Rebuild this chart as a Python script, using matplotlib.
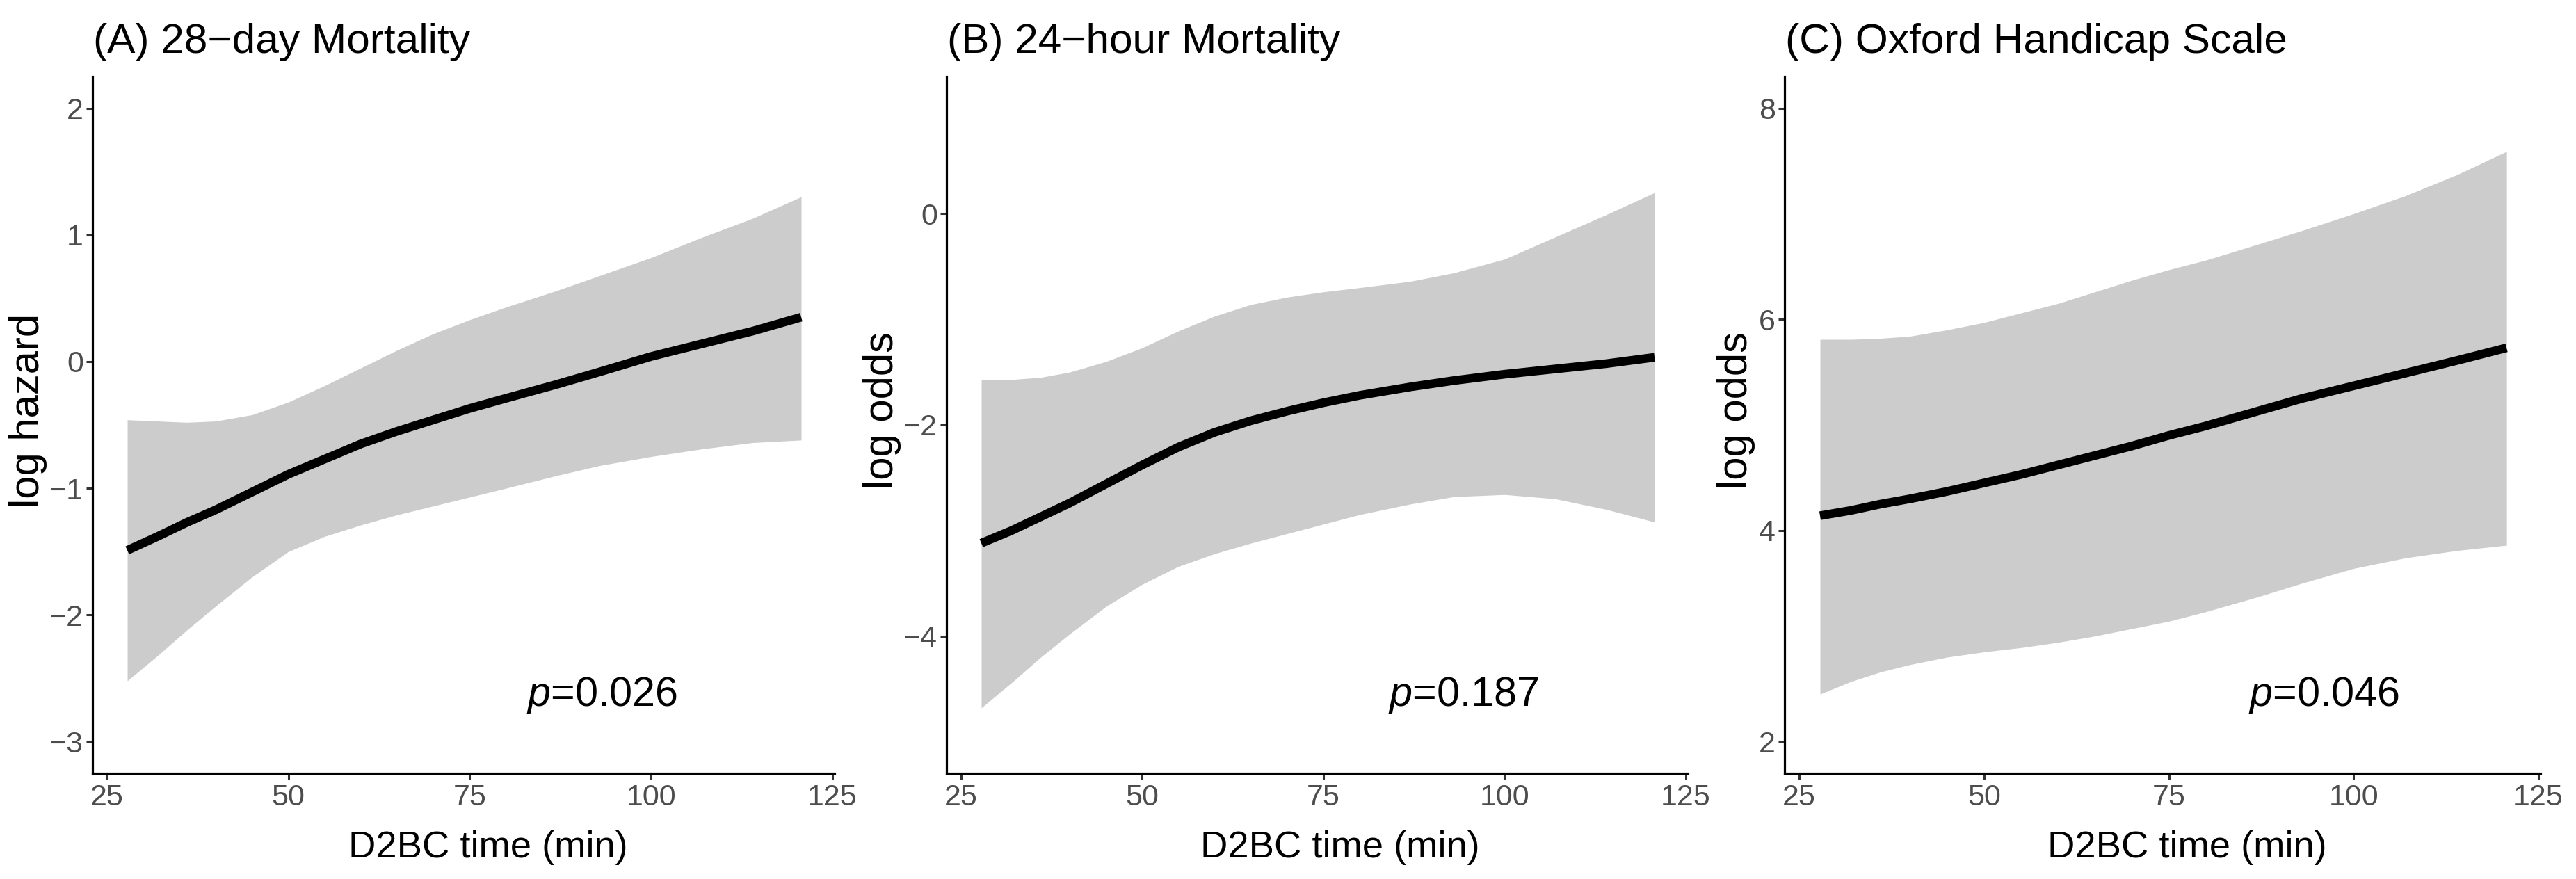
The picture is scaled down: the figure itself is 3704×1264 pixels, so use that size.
import matplotlib
matplotlib.use("Agg")
import matplotlib.pyplot as plt
from matplotlib import font_manager as fm

# ---------------- data ----------------
x_a = [27.8, 32, 36, 40, 45, 50, 55, 60, 65, 70, 75, 80, 87, 93, 100, 107, 114, 120.7]
fit_a = [-1.49, -1.38, -1.27, -1.17, -1.03, -0.89, -0.77, -0.65, -0.55, -0.46, -0.37, -0.29,
         -0.18, -0.08, 0.04, 0.14, 0.24, 0.35]
upr_a = [-0.46, -0.47, -0.48, -0.47, -0.42, -0.32, -0.19, -0.05, 0.09, 0.22, 0.33, 0.43,
         0.56, 0.68, 0.82, 0.98, 1.13, 1.30]
lwr_a = [-2.52, -2.32, -2.12, -1.93, -1.70, -1.50, -1.38, -1.29, -1.21, -1.14, -1.07, -1.00,
         -0.90, -0.82, -0.75, -0.69, -0.64, -0.62]

x_b = [27.8, 32, 36, 40, 45, 50, 55, 60, 65, 70, 75, 80, 87, 93, 100, 107, 114, 120.7]
fit_b = [-3.12, -3.00, -2.87, -2.74, -2.56, -2.38, -2.21, -2.07, -1.96, -1.87, -1.79, -1.72,
         -1.64, -1.58, -1.52, -1.47, -1.42, -1.36]
upr_b = [-1.57, -1.57, -1.55, -1.50, -1.40, -1.27, -1.11, -0.97, -0.86, -0.79, -0.74, -0.70,
         -0.64, -0.56, -0.43, -0.22, -0.01, 0.20]
lwr_b = [-4.68, -4.44, -4.20, -3.98, -3.72, -3.51, -3.34, -3.22, -3.12, -3.03, -2.94, -2.85,
         -2.75, -2.68, -2.66, -2.70, -2.80, -2.92]

x_c = [27.8, 32, 36, 40, 45, 50, 55, 60, 65, 70, 75, 80, 87, 93, 100, 107, 114, 120.7]
fit_c = [4.14, 4.19, 4.25, 4.30, 4.37, 4.45, 4.53, 4.62, 4.71, 4.80, 4.90, 4.99,
         5.13, 5.25, 5.37, 5.49, 5.61, 5.73]
upr_c = [5.81, 5.81, 5.82, 5.84, 5.90, 5.97, 6.06, 6.15, 6.26, 6.37, 6.47, 6.56,
         6.71, 6.84, 7.00, 7.17, 7.37, 7.59]
lwr_c = [2.45, 2.57, 2.66, 2.73, 2.80, 2.85, 2.89, 2.94, 3.00, 3.07, 3.14, 3.23,
         3.37, 3.50, 3.64, 3.74, 3.81, 3.86]

titles = ["(A) 28\u2212day Mortality", "(B) 24\u2212hour Mortality", "(C) Oxford Handicap Scale"]
ylabels = ["log hazard", "log odds", "log odds"]
xlabel = "D2BC time (min)"
pvalues = ["0.026", "0.187", "0.046"]
x_ticks = [25, 50, 75, 100, 125]
y_ticks = [[-3, -2, -1, 0, 1, 2], [-4, -2, 0], [2, 4, 6, 8]]
y_limits = [(-3, 2), (-5, 1), (2, 8)]

# ---------------- fonts ----------------
def has_font(name):
    try:
        fm.findfont(fm.FontProperties(family=name), fallback_to_default=False)
        return True
    except Exception:
        return False

REG = "Liberation Sans" if has_font("Liberation Sans") else "DejaVu Sans"
if has_font("Liberation Sans Narrow"):
    NAR, k = "Liberation Sans Narrow", 1.0
else:
    NAR, k = REG, 0.91   # no narrow face: shrink a little to balance width/height
plt.rcParams["font.family"] = [REG, "DejaVu Sans"]
plt.rcParams["mathtext.fontset"] = "custom"
plt.rcParams["mathtext.it"] = NAR + ":italic"
plt.rcParams["mathtext.rm"] = NAR

FS_TITLE = 43.5
FS_LAB = 43 * k
FS_YLAB = 43
FS_TICK = 34 * k
FS_P = 47 * k

# ---------------- layout (pixels) ----------------
W, H = 3704, 1264
fig = plt.figure(figsize=(W / 100, H / 100), dpi=100)

ax_lr = [(133, 1200), (1361, 2427), (2566, 3653)]
top_px, bot_px = 110, 1112
xlab_cx = [702, 1927, 3145]
ylab_cx = [40, 1268, 2496]
p_x = [93.2, 94.3, 96.0]

series = [(x_a, fit_a, lwr_a, upr_a), (x_b, fit_b, lwr_b, upr_b), (x_c, fit_c, lwr_c, upr_c)]

for i in range(3):
    l, r = ax_lr[i]
    ax = fig.add_axes([l / W, 1 - bot_px / H, (r - l) / W, (bot_px - top_px) / H])
    xs, fit, lo, hi = series[i]
    ax.fill_between(xs, lo, hi, color="#CCCCCC", linewidth=0, zorder=1)
    ax.plot(xs, fit, color="black", linewidth=9, solid_capstyle="butt",
            solid_joinstyle="round", zorder=2)

    ax.set_xlim(23.0, 125.3)
    y0, y1 = y_limits[i]
    rng = y1 - y0
    ax.set_ylim(y0 - 0.05 * rng, y1 + 0.05 * rng)
    ax.set_xticks(x_ticks)
    ax.set_yticks(y_ticks[i])
    ax.set_yticklabels([str(v).replace("-", "\u2212") for v in y_ticks[i]])

    for s in ["top", "right"]:
        ax.spines[s].set_visible(False)
    for s in ["left", "bottom"]:
        ax.spines[s].set_linewidth(2.3)
        ax.spines[s].set_color("black")
        ax.spines[s].set_capstyle("projecting")
    ax.tick_params(axis="both", direction="out", length=6.5, width=2.2,
                   color="#333333", labelcolor="#4D4D4D", labelsize=FS_TICK)
    ax.tick_params(axis="x", pad=4)
    ax.tick_params(axis="y", pad=3)
    for lab in ax.get_xticklabels() + ax.get_yticklabels():
        lab.set_fontfamily(NAR)
    ax.set_facecolor("white")

    # p value text, centred at pixel row 1000
    yc = (y0 - 0.05 * rng) + (bot_px - 1000) / (bot_px - top_px) * (rng * 1.1)
    ax.text(p_x[i], yc, r"$\mathit{p}$=" + pvalues[i], fontsize=FS_P,
            family=NAR, ha="center", va="center", color="black", zorder=3)

    # title
    fig.text((l + 1) / W, 1 - 76 / H, titles[i], fontsize=FS_TITLE, family=REG,
             ha="left", va="baseline", color="black")
    # x label
    fig.text(xlab_cx[i] / W, 1 - 1233 / H, xlabel, fontsize=FS_LAB, family=NAR,
             ha="center", va="baseline", color="black")
    # y label
    fig.text(ylab_cx[i] / W, 1 - 590 / H, ylabels[i], fontsize=FS_YLAB, family=REG,
             rotation=90, ha="center", va="center", color="black")

fig.savefig("out.png", dpi=100, facecolor="white")
